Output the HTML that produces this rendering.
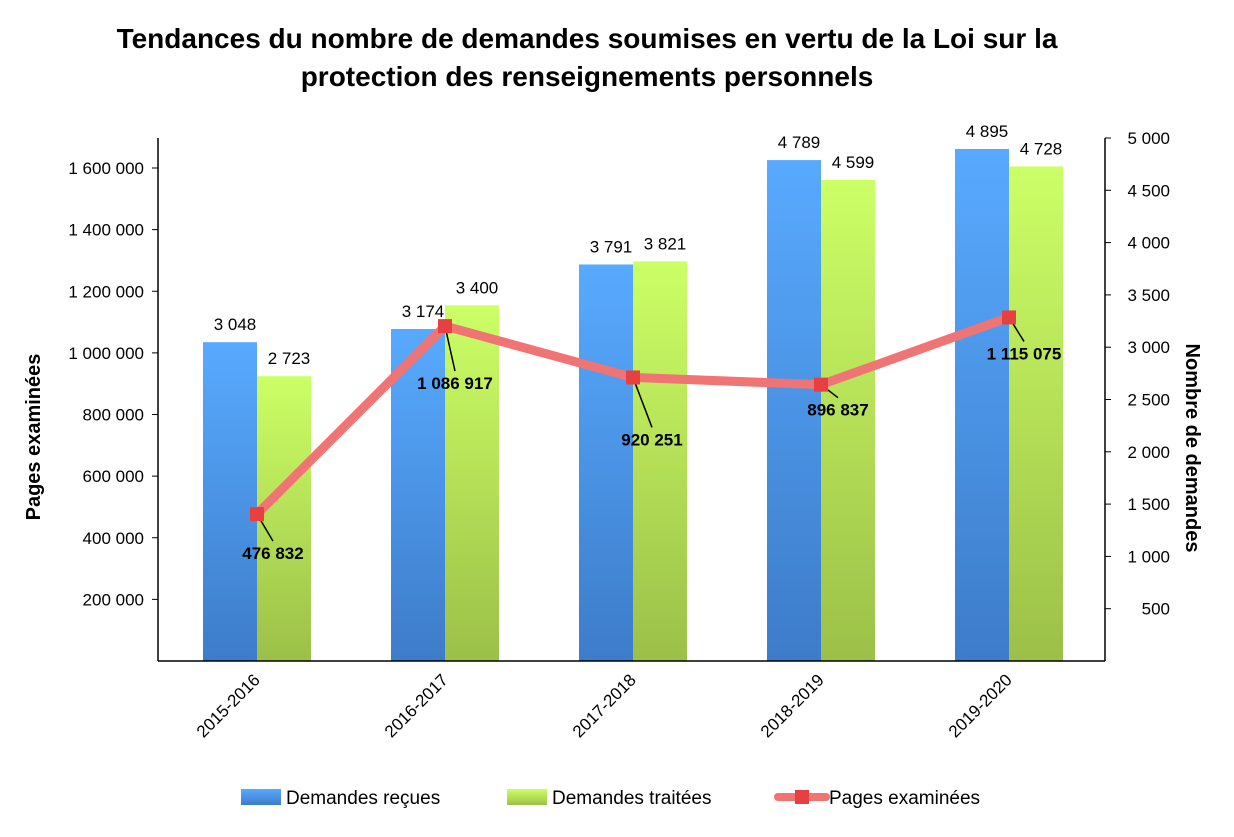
<!DOCTYPE html>
<html><head><meta charset="utf-8"><style>
body{margin:0;background:#fff;}
svg text{font-family:"Liberation Sans",sans-serif;}
</style></head><body>
<svg id="c" width="1234" height="832" xmlns="http://www.w3.org/2000/svg">
<defs>
<linearGradient id="gb" x1="0" y1="0" x2="0" y2="1"><stop offset="0" stop-color="#58aaff"/><stop offset="1" stop-color="#3d7cc9"/></linearGradient>
<linearGradient id="gg" x1="0" y1="0" x2="0" y2="1"><stop offset="0" stop-color="#ccff66"/><stop offset="1" stop-color="#9cc048"/></linearGradient>
</defs>
<text x="587" y="48" text-anchor="middle" font-size="28" font-weight="bold">Tendances du nombre de demandes soumises en vertu de la Loi sur la</text>
<text x="587" y="86" text-anchor="middle" font-size="28" font-weight="bold">protection des renseignements personnels</text>
<g id="plot"></g>
<text transform="translate(40,437) rotate(-90)" text-anchor="middle" font-size="20" font-weight="bold">Pages examinées</text>
<text transform="translate(1186,448) rotate(90)" text-anchor="middle" font-size="20" font-weight="bold">Nombre de demandes</text>
<g>
<rect x="241" y="789" width="40" height="16" fill="url(#gb)"/>
<text x="286" y="804" font-size="19">Demandes reçues</text>
<rect x="507" y="789" width="40" height="16" fill="url(#gg)"/>
<text x="552" y="804" font-size="19">Demandes traitées</text>
<line x1="778" y1="797" x2="826" y2="797" stroke="#f07474" stroke-width="8" stroke-linecap="round"/>
<rect x="795" y="790" width="14" height="14" fill="#e84040"/>
<text x="829" y="804" font-size="19">Pages examinées</text>
</g>
</svg>
<script>
const categories=["2015-2016","2016-2017","2017-2018","2018-2019","2019-2020"];
const recues=[3048,3174,3791,4789,4895];
const traitees=[2723,3400,3821,4599,4728];
const pages=[476832,1086917,920251,896837,1115075];
const leftTicks=[200000,400000,600000,800000,1000000,1200000,1400000,1600000];
const rightTicks=[500,1000,1500,2000,2500,3000,3500,4000,4500,5000];
const labelOffsets=[[16,45],[10,63],[19,68],[17,31],[15,42]];

const NS="http://www.w3.org/2000/svg";
const g=document.getElementById('plot');
const X0=158,X1=1105,Y0=661,YT=138;
function yLeft(v){return Y0-v*(Y0-168)/1600000;}
function yRight(v){return Y0-v*(Y0-YT)/5000;}
function xC(i){return 257+188*i;}
function fmt(v){return String(v).replace(/\B(?=(\d{3})+(?!\d))/g,' ');}
function el(t,a,txt){const e=document.createElementNS(NS,t);for(const k in a)e.setAttribute(k,a[k]);if(txt!=null)e.textContent=txt;g.appendChild(e);return e;}

(function(){
let e;
e=el('line',{x1:X0,y1:YT,x2:X0,y2:Y0,stroke:'#000','stroke-width':1.5});


e=el('line',{x1:X1,y1:YT,x2:X1,y2:Y0,stroke:'#000','stroke-width':1.5});


leftTicks.forEach(v=>{const y=yLeft(v);
 el('line',{x1:X0-6,y1:y,x2:X0,y2:y,stroke:'#000'});
 e=el('text',{x:X0-14,y:y+6,'text-anchor':'end','font-size':17},fmt(v));
 
 });
rightTicks.forEach(v=>{const y=yRight(v);
 el('line',{x1:X1,y1:y,x2:X1+6,y2:y,stroke:'#000'});
 e=el('text',{x:1170,y:y+6,'text-anchor':'end','font-size':17},fmt(v));
 
 });
const w=54;
categories.forEach((c,i)=>{const cx=xC(i);
 let y=yRight(recues[i]);
 e=el('rect',{x:cx-w,y:y,width:w,height:Y0-y,fill:'url(#gb)'});
 
 
 e=el('text',{x:cx-w/2+5,y:y-12,'text-anchor':'middle','font-size':17},fmt(recues[i]));
 
 
 y=yRight(traitees[i]);
 e=el('rect',{x:cx,y:y,width:w,height:Y0-y,fill:'url(#gg)'});
 
 
 e=el('text',{x:cx+w/2+5,y:y-12,'text-anchor':'middle','font-size':17},fmt(traitees[i]));
 
 
 e=el('text',{transform:`translate(${cx+4},${Y0+20}) rotate(-45)`,'text-anchor':'end','font-size':17},c);
 
 
});
e=el('line',{x1:X0,y1:Y0,x2:X1,y2:Y0,stroke:'#000','stroke-width':1.5});


const pts=pages.map((v,i)=>xC(i)+','+yLeft(v)).join(' ');
e=el('polyline',{points:pts,fill:'none',stroke:'#f07474','stroke-width':9,'stroke-linejoin':'round','stroke-linecap':'round'});


pages.forEach((v,i)=>{const x=xC(i),y=yLeft(v);const o=labelOffsets[i];
 el('line',{x1:x,y1:y,x2:x+o[0],y2:y+o[1]-18,stroke:'#000','stroke-width':1.5});
 e=el('rect',{x:x-7,y:y-7,width:14,height:14,fill:'#e84040'});
 
 
 e=el('text',{x:x+o[0],y:y+o[1],'text-anchor':'middle','font-size':17,'font-weight':'bold'},fmt(v));
 
 
});
})();
</script>
</body></html>
